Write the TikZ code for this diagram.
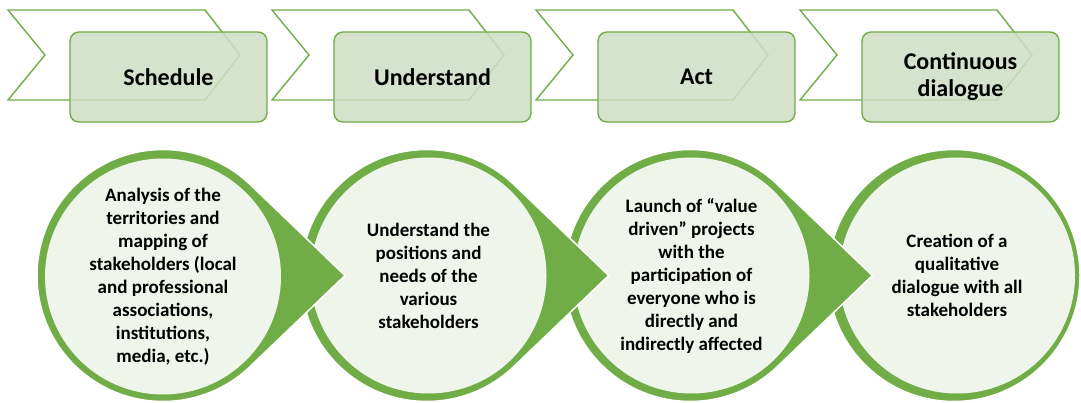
\documentclass[tikz,border=0pt]{standalone}
\usepackage{fontspec}
\setmainfont{Carlito}
\definecolor{leaf}{RGB}{112,173,71}
\definecolor{pale}{RGB}{240,245,236}
\definecolor{boxfill}{RGB}{206,223,196}
\newcommand\teardrop[1]{%
  \path[drop] (#1+182,275.5) -- ([shift={(#1,275.5)}]-46.2:126)
    arc[start angle=-46.2, end angle=-313.8, radius=126] -- cycle;}
\begin{document}
\begin{tikzpicture}[x=1pt,y=-1pt,
  chev/.style={draw=leaf, line width=1.4pt, fill=white, line join=miter},
  stagebox/.style={draw=leaf, line width=1.4pt, fill=boxfill, fill opacity=0.85,
    text opacity=1, rounded corners=9pt, minimum width=197pt, minimum height=90pt,
    inner sep=0pt, align=center, font=\fontsize{24}{27}\selectfont\bfseries},
  drop/.style={fill=leaf, draw=white, line width=1.5pt},
  core/.style={circle, fill=pale, minimum size=236pt, inner sep=0pt, align=center,
    font=\fontsize{19}{23}\selectfont\bfseries}]
\path[fill=white] (0,0) rectangle (1081,403);
\useasboundingbox (0,0) rectangle (1081,403);
% chevrons
\foreach \x in {8,272,536,800}{
  \path[chev] (\x,10) -- (\x+197,10) -- (\x+232,55) -- (\x+197,100) -- (\x,100) -- (\x+37,55) -- cycle;
}
% stage boxes
\node[stagebox] (s1) at (168.5,77) {Schedule};
\node[stagebox] (s2) at (432.5,77) {Understand};
\node[stagebox] (s3) at (696.5,77) {Act};
\node[stagebox] (s4) at (960.5,77) {Continuous\\dialogue};
% circles, drawn right to left
\path[drop] (954,275.5) circle[radius=126];
\node[core] (c4) at (957,275.5) {Creation of a\\qualitative\\dialogue with all\\stakeholders};
\teardrop{690.3}
\node[core] (c3) at (691.5,275.5) {Launch of “value\\driven” projects\\with the\\participation of\\everyone who is\\directly and\\indirectly affected};
\teardrop{426.7}
\node[core] (c2) at (428.5,275.5) {Understand the\\positions and\\needs of the\\various\\stakeholders};
\teardrop{163}
\node[core] (c1) at (163,276.5) {Analysis of the\\territories and\\mapping of\\stakeholders (local\\and professional\\associations,\\institutions,\\media, etc.)};
\end{tikzpicture}
\end{document}
